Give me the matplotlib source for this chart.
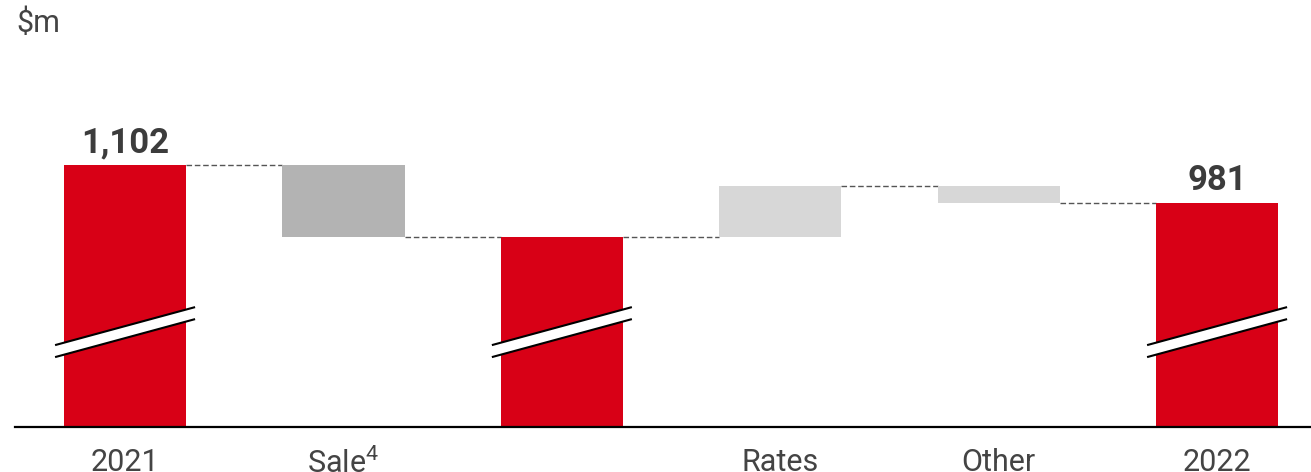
import matplotlib
matplotlib.use('Agg')
import matplotlib.pyplot as plt
from matplotlib.patches import Polygon

plt.rcParams['font.family'] = ['Roboto', 'DejaVu Sans']

# waterfall data, $m
labels = ['2021', 'Sale$^\\mathregular{4}$', '', 'Rates', 'Other', '2022']
start_value = 1102
changes = [-230, 164, -55]
end_value = 981
subtotal = start_value + changes[0]

red, grey_dark, grey_light = '#d80016', '#b3b3b3', '#d7d7d7'
text_col = '#3c3c3c'

# bar bottoms / tops
bottoms = [0, subtotal, 0, subtotal, subtotal + changes[1] + changes[2], 0]
tops = [start_value, start_value, subtotal, subtotal + changes[1], subtotal + changes[1], end_value]
colors = [red, grey_dark, red, grey_light, grey_light, red]
x = list(range(len(labels)))
width = 0.56

fig = plt.figure(figsize=(13.11, 4.72), dpi=100)
ax = fig.add_axes([15 / 1311, 45 / 472, 1296 / 1311, 427 / 472])
y_lo, y_hi = 268, 1627
ax.set_xlim(-0.504, 5.43)
ax.set_ylim(y_lo, y_hi)

ax.bar(x, [t - b for t, b in zip(tops, bottoms)], bottom=bottoms, width=width, color=colors, zorder=2)

# dashed connectors between bars
levels = [tops[0], bottoms[1], tops[2], tops[3], bottoms[4]]
for i, lvl in enumerate(levels):
    ax.plot([x[i] + width / 2, x[i + 1] - width / 2], [lvl, lvl], ls=(0, (4, 2)), lw=1, color='#555555', zorder=1)

# value labels on the totals
for i in (0, 5):
    ax.annotate('{:,}'.format(tops[i]), (x[i], tops[i]), xytext=(0, 9), textcoords='offset points',
                ha='center', va='baseline', fontsize=25, fontweight='bold', color=text_col)

# axis break marks on the red bars
px_x = (ax.get_xlim()[1] - ax.get_xlim()[0]) / 1296
px_y = (y_hi - y_lo) / 427
break_y = 570
for i in (0, 2, 5):
    xl, xr = x[i] - 70 * px_x, x[i] + 70 * px_x
    yl, yr = break_y - 19 * px_y, break_y + 19 * px_y
    g = 6 * px_y
    ax.add_patch(Polygon([(xl, yl + g), (xr, yr + g), (xr, yr - g), (xl, yl - g)], closed=True,
                         facecolor='white', edgecolor='none', zorder=3))
    ax.plot([xl, xr], [yl + g, yr + g], color='black', lw=1.5, zorder=4, solid_capstyle='butt')
    ax.plot([xl, xr], [yl - g, yr - g], color='black', lw=1.5, zorder=4, solid_capstyle='butt')

ax.set_xticks(x)
ax.set_xticklabels(labels, fontsize=22, color='#444444')
ax.tick_params(axis='x', length=0, pad=15)
ax.set_yticks([])
for s in ('top', 'right', 'left'):
    ax.spines[s].set_visible(False)
ax.spines['bottom'].set_linewidth(1.6)
ax.spines['bottom'].set_color('black')

fig.text(16 / 1311, 1 - 32 / 472, '$m', fontsize=22, color='#444444', va='baseline')

fig.savefig('out.png', dpi=100)
